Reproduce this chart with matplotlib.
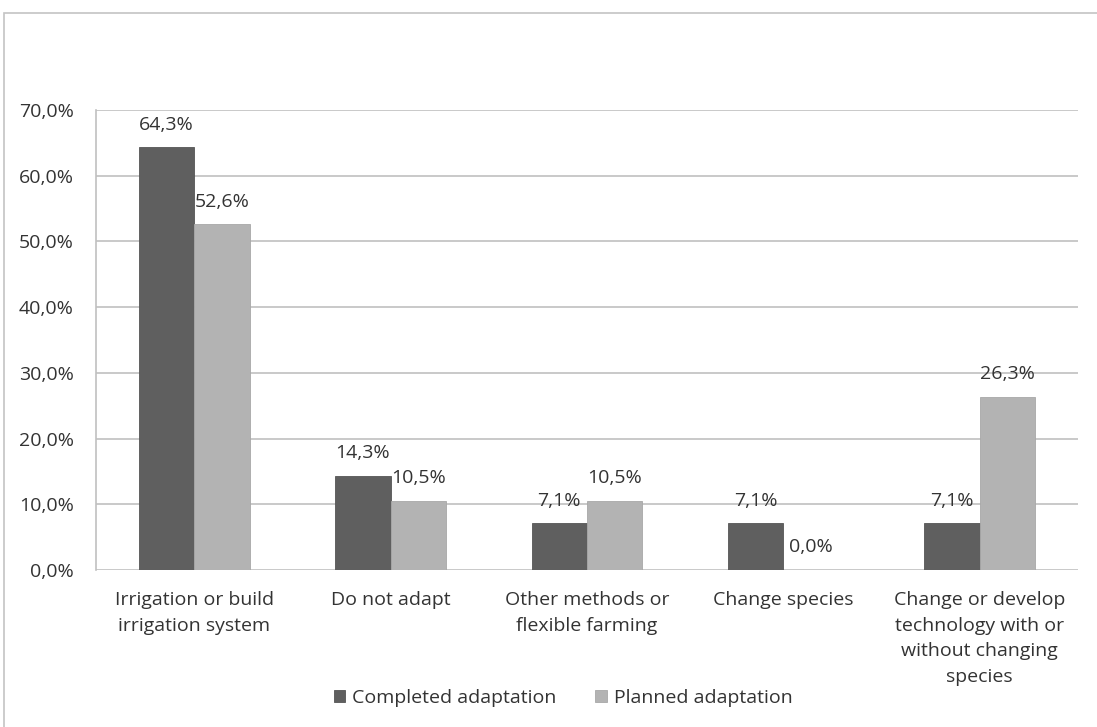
import matplotlib.pyplot as plt
import numpy as np
from matplotlib.patches import Rectangle

categories = ['Irrigation or build\nirrigation system',
              'Do not adapt',
              'Other methods or\nflexible farming',
              'Change species',
              'Change or develop\ntechnology with or\nwithout changing\nspecies']
completed = [64.3, 14.3, 7.1, 7.1, 7.1]
planned = [52.6, 10.5, 10.5, 0.0, 26.3]
series_names = ['Completed adaptation', 'Planned adaptation']
yticks = [0, 10, 20, 30, 40, 50, 60, 70]

DARK = '#5f5f5f'
LIGHT = '#b3b3b3'
TEXT = '#333333'
FONT = 'Open Sans'
FS = 14


def pct(v):
    return f'{v:.1f}%'.replace('.', ',')


fig = plt.figure(figsize=(10.97, 7.27), dpi=100, facecolor='white')
ax = fig.add_axes([96 / 1097, 1 - 570 / 727, (1078 - 96) / 1097, (570 - 110) / 727])

# chart frame, cut off on the right and bottom
fig.patches.append(Rectangle((4 / 1097, -0.1), 1.2, 1 - 13 / 727 + 0.1,
                             transform=fig.transFigure, fill=False,
                             edgecolor='#c4c4c4', linewidth=1.2))

x = np.arange(len(categories))
w = 0.282
b1 = ax.bar(x - w / 2, completed, w, color=DARK, edgecolor='#555555',
            linewidth=0.6, label=series_names[0], zorder=3)
b2 = ax.bar(x + w / 2, planned, w, color=LIGHT, edgecolor='#a8a8a8',
            linewidth=0.6, label=series_names[1], zorder=3)

for bars, vals in ((b1, completed), (b2, planned)):
    for rect, v in zip(bars, vals):
        ax.text(rect.get_x() + rect.get_width() / 2, v + 2.1, pct(v),
                ha='center', va='bottom', fontsize=FS, color=TEXT,
                family=FONT, zorder=4)

ax.set_xlim(-0.5, len(categories) - 0.5)
ax.set_ylim(0, 70)
ax.set_yticks(yticks)
ax.set_yticklabels([pct(t) for t in yticks], family=FONT, fontsize=FS,
                   color=TEXT)
ax.set_xticks(x)
ax.set_xticklabels(categories, family=FONT, fontsize=FS, color=TEXT,
                   linespacing=1.55)
ax.tick_params(axis='both', length=0)
ax.tick_params(axis='y', pad=16)
ax.tick_params(axis='x', pad=15)

ax.grid(axis='y', color='#c0c0c0', linewidth=1.2, zorder=0)
ax.set_axisbelow(True)
for side in ('top', 'right', 'bottom'):
    ax.spines[side].set_visible(False)
ax.spines['left'].set_color('#c0c0c0')
ax.spines['left'].set_linewidth(1.2)

fig.legend(handles=[b1, b2], labels=series_names, loc='center',
           bbox_to_anchor=(563 / 1097, 1 - 698 / 727), ncol=2, frameon=False,
           prop={'family': FONT, 'size': FS}, handlelength=0.6,
           handleheight=0.6, handletextpad=0.35, columnspacing=2.0,
           labelcolor=TEXT)

fig.savefig('out.png', dpi=100, facecolor='white')
